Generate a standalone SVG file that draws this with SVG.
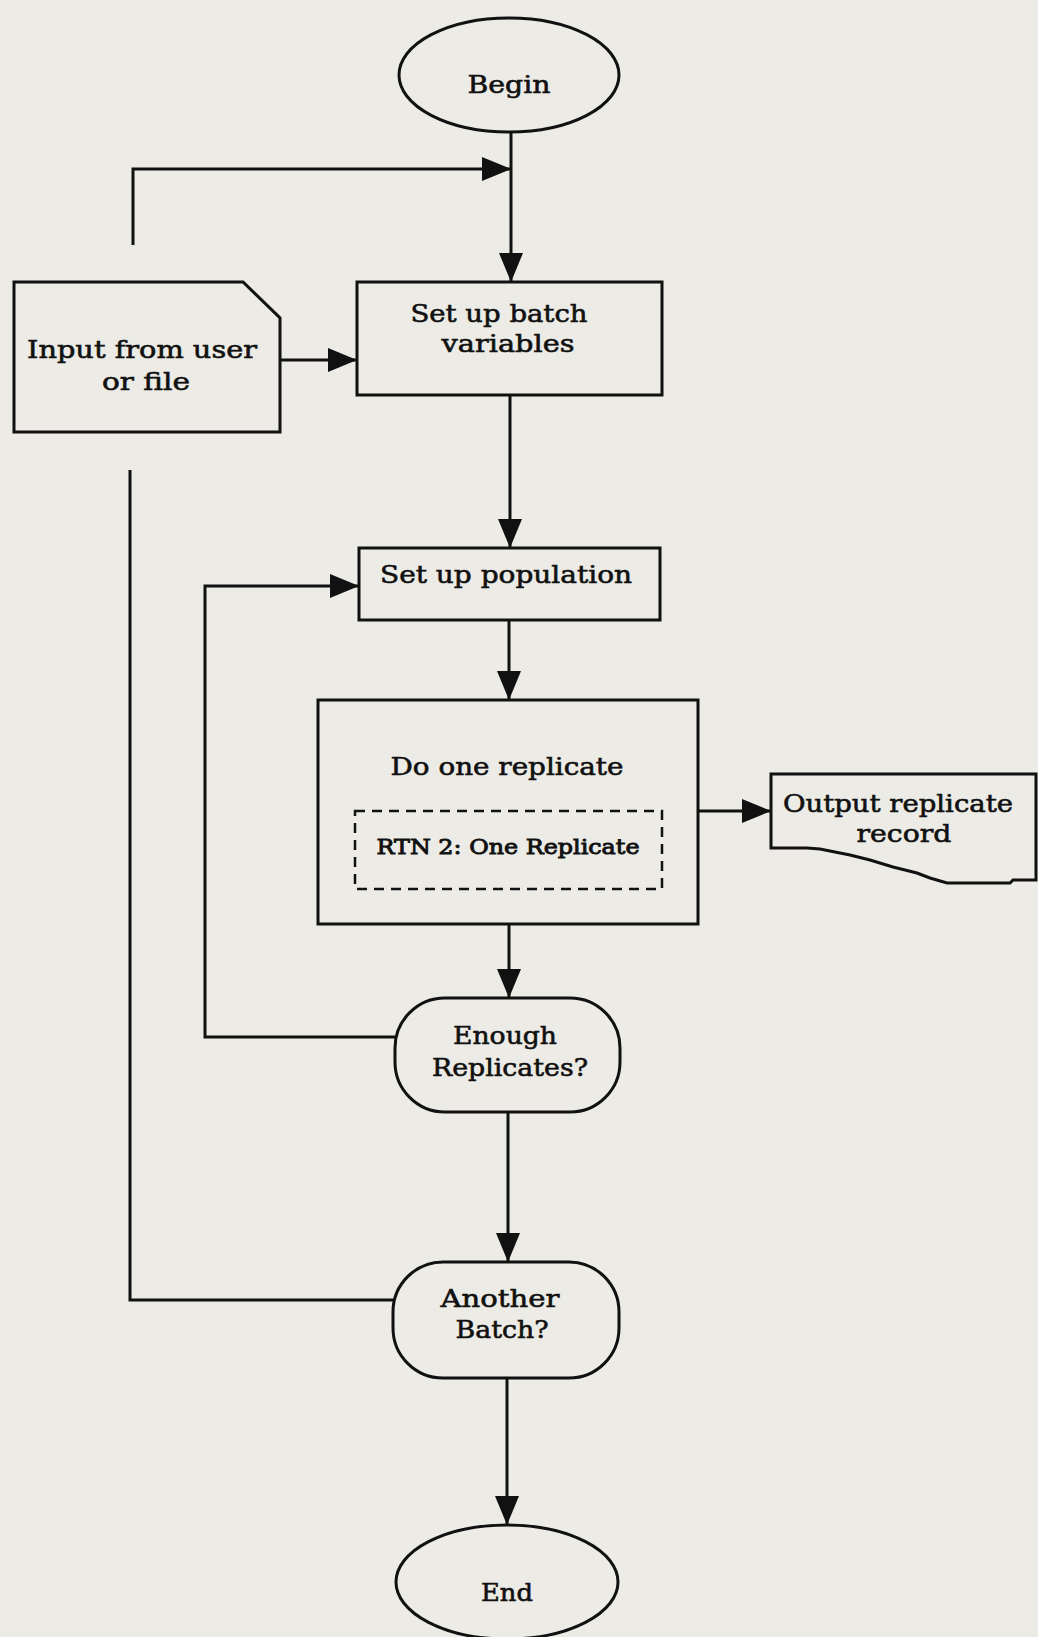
<svg xmlns="http://www.w3.org/2000/svg" width="1038" height="1637" viewBox="0 0 1038 1637">
  <defs>
    <marker id="arr" markerUnits="userSpaceOnUse" markerWidth="32" markerHeight="26" refX="29" refY="12" orient="auto">
      <path d="M0,0 L29,12 L0,24 Z" fill="#111"/>
    </marker>
    <style>
      .shape { fill: none; stroke: #111; stroke-width: 3; }
      .conn { fill: none; stroke: #111; stroke-width: 3; }
      .arrow { marker-end: url(#arr); }
      .dash { fill: none; stroke: #111; stroke-width: 2.5; stroke-dasharray: 10 7; }
      text { font-family: "DejaVu Serif", "Liberation Serif", serif; font-size: 25px; fill: #111; stroke: #111; stroke-width: 0.6; text-anchor: middle; }
      .small { font-size: 21px; stroke-width: 0.9; }
    </style>
  </defs>
  <rect x="0" y="0" width="1038" height="1637" fill="#ecebe5"/>

  <g id="connectors">
    <path class="conn arrow" d="M511,132 V282"/>
    <path class="conn arrow" d="M133,245 V169 H511"/>
    <path class="conn arrow" d="M280,360 H357"/>
    <path class="conn arrow" d="M510,395 V548"/>
    <path class="conn arrow" d="M509,620 V700"/>
    <path class="conn arrow" d="M698,811 H771"/>
    <path class="conn arrow" d="M509,924 V998"/>
    <path class="conn arrow" d="M395,1037 H205 V586 H359"/>
    <path class="conn arrow" d="M508,1112 V1262"/>
    <path class="conn" d="M393,1300 H130 V470"/>
    <path class="conn arrow" d="M507,1378 V1525"/>
  </g>

  <g id="begin">
    <ellipse class="shape" cx="509" cy="75" rx="110" ry="57"/>
    <text x="509" y="93" textLength="83" lengthAdjust="spacingAndGlyphs">Begin</text>
  </g>

  <g id="input">
    <path class="shape" d="M14,282 H243 L280,318 V432 H14 Z"/>
    <text x="142" y="358" textLength="230" lengthAdjust="spacingAndGlyphs">Input from user</text>
    <text x="146" y="390" textLength="88" lengthAdjust="spacingAndGlyphs">or file</text>
  </g>

  <g id="batch">
    <rect class="shape" x="357" y="282" width="305" height="113"/>
    <text x="499" y="322" textLength="177" lengthAdjust="spacingAndGlyphs">Set up batch</text>
    <text x="508" y="352" textLength="133" lengthAdjust="spacingAndGlyphs">variables</text>
  </g>

  <g id="population">
    <rect class="shape" x="359" y="548" width="301" height="72"/>
    <text x="506" y="583" textLength="252" lengthAdjust="spacingAndGlyphs">Set up population</text>
  </g>

  <g id="replicate">
    <rect class="shape" x="318" y="700" width="380" height="224"/>
    <text x="507" y="775" textLength="233" lengthAdjust="spacingAndGlyphs">Do one replicate</text>
    <rect class="dash" x="355" y="811" width="307" height="78"/>
    <text class="small" x="508" y="854" textLength="263" lengthAdjust="spacingAndGlyphs">RTN 2: One Replicate</text>
  </g>

  <g id="output">
    <path class="shape" d="M771,774 H1036 V880 H1013 L1010,883 H947 L930,878 L917,873 L893,867 L870,860 L850,855 L820,849 L807,848 H771 Z"/>
    <text x="898" y="812" textLength="230" lengthAdjust="spacingAndGlyphs">Output replicate</text>
    <text x="904" y="842" textLength="95" lengthAdjust="spacingAndGlyphs">record</text>
  </g>

  <g id="enough">
    <rect class="shape" x="395" y="998" width="225" height="114" rx="50" ry="50"/>
    <text x="505" y="1044" textLength="104" lengthAdjust="spacingAndGlyphs">Enough</text>
    <text x="510" y="1076" textLength="156" lengthAdjust="spacingAndGlyphs">Replicates?</text>
  </g>

  <g id="another">
    <rect class="shape" x="393" y="1262" width="226" height="116" rx="50" ry="50"/>
    <text x="500" y="1307" textLength="119" lengthAdjust="spacingAndGlyphs">Another</text>
    <text x="502" y="1338" textLength="93" lengthAdjust="spacingAndGlyphs">Batch?</text>
  </g>

  <g id="end">
    <ellipse class="shape" cx="507" cy="1582" rx="111" ry="57"/>
    <text x="507" y="1601" textLength="52" lengthAdjust="spacingAndGlyphs">End</text>
  </g>
</svg>
